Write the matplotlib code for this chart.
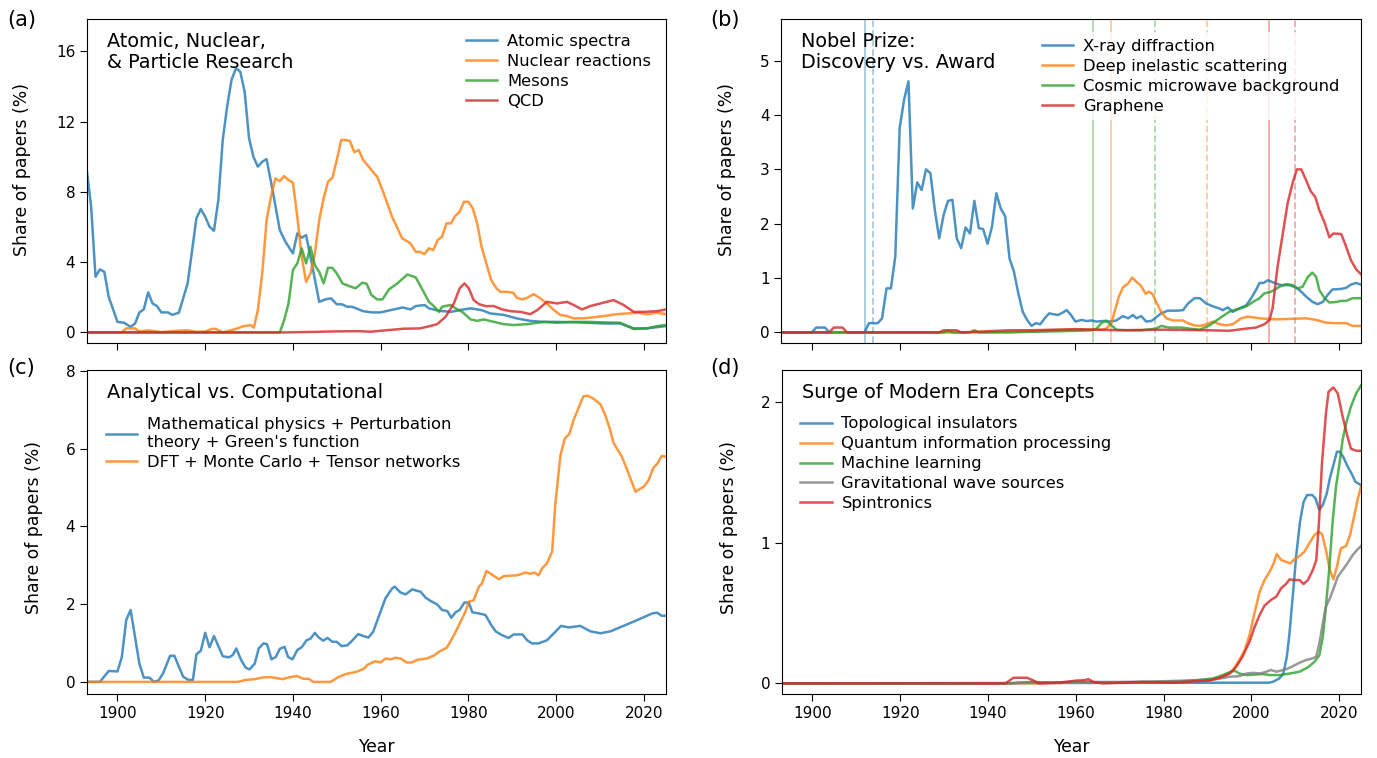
import numpy as np
import matplotlib
matplotlib.use("Agg")
import matplotlib.pyplot as plt

#------------------------------------------------------------------------------#
# Panel (a): Atomic, Nuclear & Particle research

atomYears = [1893, 1894, 1895, 1896, 1897, 1898, 1900, 1901.5, 1903, 1904, 1905, 1906, 1907,
             1908, 1909, 1910, 1911.5, 1912.5, 1914, 1916, 1918, 1919, 1920, 1921, 1922, 1923,
             1924, 1925, 1926, 1927, 1928, 1929, 1930, 1931, 1932, 1933, 1934, 1935.5, 1937,
             1938.3, 1940, 1941, 1942, 1943, 1944.3, 1946, 1947.4, 1948.7, 1950, 1951.2, 1952.4,
             1953.5, 1956, 1958, 1960, 1962.3, 1965, 1966.8, 1968, 1970, 1971, 1973.3, 1976,
             1978, 1980.5, 1983, 1985, 1988, 1991, 1994, 1997, 2000, 2005, 2011, 2014.6, 2017.7,
             2020.7, 2025]
atomVals  = [9.25, 7.16, 3.17, 3.59, 3.45, 2.03, 0.6, 0.55, 0.32, 0.5, 1.14, 1.31, 2.28,
             1.65, 1.5, 1.14, 1.14, 1.0, 1.12, 2.79, 6.5, 7.03, 6.59, 6.02, 5.79, 7.54,
             10.96, 12.86, 14.38, 15.04, 14.85, 13.7, 11.05, 10.0, 9.44, 9.72, 9.87, 7.92, 5.83,
             5.16, 4.5, 5.64, 5.39, 5.54, 3.93, 1.74, 1.88, 1.94, 1.6, 1.6, 1.46,
             1.46, 1.21, 1.14, 1.14, 1.27, 1.42, 1.31, 1.5, 1.56, 1.37, 1.23, 1.17,
             1.27, 1.37, 1.27, 1.08, 1.0, 0.8, 0.66, 0.6, 0.6, 0.57, 0.51, 0.51, 0.23,
             0.23, 0.36]

nuclYears = [1893, 1901, 1902, 1904, 1905, 1907, 1910, 1914, 1916, 1918, 1920, 1921.5, 1922.5,
             1924, 1927, 1928.8, 1930.4, 1931.1, 1932, 1933, 1934, 1935, 1936, 1937, 1938, 1939,
             1940, 1941, 1942, 1943, 1944, 1945, 1946, 1947, 1948, 1949, 1950, 1951, 1952, 1953,
             1954, 1955, 1956, 1957.3, 1958.5, 1959.2, 1960.7, 1962.6, 1964.9, 1966.8, 1968,
             1969, 1970, 1971, 1972, 1973, 1974, 1975, 1976, 1977, 1978, 1979, 1980, 1981,
             1982, 1983, 1984.3, 1985.2, 1986.4, 1987.3, 1988.8, 1990.2, 1991.1, 1992.3, 1993.4,
             1994.9, 1996.4, 1997.9, 1999.5, 2001, 2002.5, 2004, 2006.3, 2008.6, 2010.8, 2013.9,
             2016.2, 2018.5, 2020.7, 2023, 2025]
nuclVals  = [0, 0, 0.23, 0.23, 0.05, 0.12, 0.02, 0.1, 0.12, 0.03, 0.05, 0.2, 0.2,
             0, 0.2, 0.36, 0.41, 0.27, 1.27, 3.36, 6.4, 7.73, 8.77, 8.62, 8.9, 8.68,
             8.53, 6.59, 4.31, 2.88, 3.36, 4.5, 6.4, 7.64, 8.58, 8.81, 9.82, 10.96, 10.96, 10.9,
             10.26, 10.39, 9.82, 9.44, 9.06, 8.87, 7.92, 6.59, 5.36, 5.07, 4.59,
             4.59, 4.46, 4.79, 4.69, 5.26, 5.45, 6.21, 6.21, 6.63, 6.87, 7.44, 7.44, 7.07,
             6.21, 4.88, 3.74, 2.98, 2.51, 2.31, 2.31, 2.26, 1.97, 1.88, 1.97,
             2.18, 1.94, 1.65, 1.27, 0.99, 0.93, 0.8, 0.8, 0.86, 0.93, 1.04,
             1.08, 1.12, 1.04, 1.12, 1.04]

mesonYears = [1893, 1937, 1938, 1939, 1940, 1941, 1942, 1943, 1944, 1945, 1946, 1947, 1948,
              1949, 1950, 1951.3, 1952.8, 1954.3, 1955.8, 1956.8, 1957.9, 1959.2, 1960.4,
              1961.9, 1963.8, 1966.1, 1968, 1969.8, 1971, 1972.1, 1973.3, 1974, 1975.9, 1977.1,
              1978.6, 1980.5, 1982, 1983.5, 1985.8, 1988.1, 1990.3, 1993.4, 1997.2, 2000.2,
              2003.3, 2007.1, 2010.8, 2014.6, 2017.7, 2020.7, 2023, 2025]
mesonVals  = [0, 0, 0.7, 1.65, 3.55, 3.93, 4.79, 3.93, 4.88, 3.83, 3.45, 2.79, 3.68,
              3.68, 3.36, 2.79, 2.64, 2.51, 2.83, 2.77, 2.13, 1.88, 1.88,
              2.45, 2.79, 3.3, 3.13, 2.31, 1.74, 1.5, 1.17, 1.46, 1.56, 1.37,
              1.17, 0.74, 0.66, 0.74, 0.6, 0.47, 0.42, 0.47, 0.6, 0.55,
              0.6, 0.6, 0.57, 0.55, 0.19, 0.23, 0.36, 0.42]

qcdYears = [1893, 1938, 1945, 1950, 1955, 1957.7, 1960.7, 1965.3, 1969, 1970.6, 1972.9, 1974.8,
            1976.7, 1978, 1979.1, 1980.1, 1981.2, 1982.4, 1983.9, 1985.8, 1987.7, 1989.6, 1991.9,
            1994.1, 1995.7, 1997.9, 2000.2, 2002.5, 2004, 2005.9, 2007.8, 2010.1, 2013.1, 2015.4,
            2017.7, 2020, 2023, 2025]
qcdVals  = [0, 0, 0.03, 0.06, 0.07, 0.04, 0.11, 0.21, 0.23, 0.32, 0.47, 0.89,
            1.65, 2.51, 2.79, 2.51, 1.84, 1.61, 1.5, 1.5, 1.31, 1.21, 1.17,
            1.04, 1.27, 1.74, 1.65, 1.74, 1.56, 1.31, 1.5, 1.65, 1.84, 1.56,
            1.17, 1.17, 1.21, 1.31]

#------------------------------------------------------------------------------#
# Panel (b): Nobel prize, discovery vs. award

xrayYears = [1893, 1900, 1901, 1903, 1904, 1912, 1913, 1915, 1916, 1917, 1918, 1919, 1920, 1921,
             1922, 1923, 1924, 1925, 1926, 1927, 1928, 1929, 1930, 1931, 1932, 1933, 1934, 1935,
             1936, 1937, 1938, 1939, 1940, 1941, 1942, 1943, 1944, 1945, 1946, 1947, 1948, 1949,
             1950, 1951, 1952, 1953, 1954, 1956, 1957, 1958, 1959, 1960, 1961.4, 1962.5, 1963.6,
             1964.8, 1966.3, 1967.8, 1969.3, 1970.8, 1972, 1973.1, 1973.9, 1975, 1976.1, 1977.3,
             1978.4, 1979.5, 1981, 1983, 1984.5, 1985.6, 1987.1, 1988.3, 1989.8, 1991.3, 1992.8,
             1993.5, 1994.7, 1995.8, 1997.3, 1998.9, 2000, 2001.1, 2001.9, 2002.8, 2003.8, 2005.3,
             2006.8, 2008.7, 2009.8, 2011, 2012.5, 2014, 2015.1, 2016.3, 2017.4, 2018.5, 2020.5,
             2021.6, 2022.7, 2023.9, 2025]
xrayVals  = [0, 0, 0.09, 0.09, 0, 0, 0.17, 0.17, 0.26, 0.81, 0.81, 1.39, 3.76, 4.28,
             4.62, 2.28, 2.76, 2.62, 3.0, 2.93, 2.25, 1.73, 2.16, 2.42, 2.44, 1.73, 1.55, 1.93,
             1.82, 2.42, 1.92, 1.9, 1.63, 1.94, 2.56, 2.28, 2.14, 1.36, 1.12, 0.72, 0.38, 0.23,
             0.12, 0.17, 0.15, 0.26, 0.35, 0.32, 0.36, 0.41, 0.32, 0.2, 0.23, 0.21, 0.22,
             0.2, 0.21, 0.2, 0.22, 0.3, 0.26, 0.32, 0.26, 0.3, 0.2, 0.21,
             0.28, 0.35, 0.4, 0.4, 0.41, 0.53, 0.63, 0.63, 0.53, 0.48, 0.44,
             0.41, 0.46, 0.38, 0.44, 0.5, 0.63, 0.78, 0.91, 0.91, 0.96, 0.91,
             0.87, 0.87, 0.84, 0.78, 0.66, 0.56, 0.52, 0.56, 0.69, 0.79, 0.8,
             0.82, 0.88, 0.91, 0.88]

disYears = [1893, 1945, 1950, 1955, 1960, 1966, 1967, 1968.2, 1968.9, 1969.9, 1970.8, 1972,
            1972.9, 1973.9, 1974.8, 1976, 1976.7, 1977.5, 1978.4, 1979.5, 1980.7, 1982.2, 1984.5,
            1985.6, 1987.1, 1988.3, 1989.8, 1991.3, 1992.8, 1994.3, 1995.8, 1997.7, 1999.2,
            2001.9, 2005.7, 2009.4, 2012.5, 2014.8, 2017, 2019.3, 2021.6, 2023.1, 2025]
disVals  = [0, 0, 0.02, 0.04, 0.05, 0.05, 0.07, 0.17, 0.38, 0.66, 0.83, 0.9,
            1.01, 0.93, 0.87, 0.71, 0.75, 0.71, 0.56, 0.38, 0.26, 0.22, 0.22,
            0.17, 0.13, 0.12, 0.15, 0.2, 0.15, 0.13, 0.15, 0.26, 0.29,
            0.26, 0.24, 0.25, 0.26, 0.23, 0.18, 0.17, 0.17, 0.12, 0.12]

cmbYears = [1893, 1930, 1931, 1932, 1936, 1937, 1938, 1950, 1960, 1963.6, 1964.8, 1965.9, 1967,
            1968.2, 1969.3, 1971.5, 1975, 1978.4, 1979.5, 1981.3, 1984, 1986, 1988.3, 1990.5,
            1992.8, 1995, 1997.3, 1998.9, 2000.4, 2001.9, 2003, 2004.2, 2005.3, 2006.4, 2008,
            2009.4, 2010.6, 2011.7, 2012.9, 2013.9, 2014.8, 2015.5, 2016.7, 2017.8, 2019.3,
            2020.5, 2021.6, 2023.1, 2025]
cmbVals  = [0, 0, 0.03, 0, 0, 0.04, 0, 0.01, 0.03, 0.04, 0.07, 0.17, 0.22,
            0.13, 0.05, 0.04, 0.04, 0.07, 0.12, 0.09, 0.09, 0.07, 0.05, 0.13,
            0.26, 0.38, 0.44, 0.48, 0.56, 0.63, 0.72, 0.74, 0.78, 0.84, 0.89,
            0.87, 0.81, 0.84, 1.02, 1.1, 1.02, 0.78, 0.63, 0.55, 0.56,
            0.58, 0.58, 0.63, 0.63]

graphYears = [1893, 1904, 1905, 1907, 1908, 1929, 1930, 1933, 1934, 1945, 1950, 1960, 1970,
              1980, 1990, 1995, 1998.9, 2001.1, 2003, 2004.2, 2004.9, 2006, 2007.2, 2008.3,
              2009.5, 2010.4, 2011.4, 2012.5, 2013.6, 2014.6, 2015.5, 2016.7, 2017.8, 2018.7,
              2020.5, 2021.6, 2022.7, 2023.9, 2025]
graphVals  = [0, 0, 0.09, 0.09, 0, 0, 0.04, 0.04, 0, 0.04, 0.04, 0.06, 0.04,
              0.05, 0.04, 0.03, 0.07, 0.09, 0.15, 0.23, 0.46, 1.21, 1.82, 2.38,
              2.77, 3.0, 3.0, 2.8, 2.59, 2.49, 2.25, 2.02, 1.75, 1.82,
              1.81, 1.58, 1.33, 1.16, 1.07]

# Discovery (solid) and award (dashed) years
discoveryYears = [1912, 1968, 1964, 2004]
awardYears     = [1914, 1990, 1978, 2010]

#------------------------------------------------------------------------------#
# Panel (c): Analytical vs. computational

anaYears = [1893, 1896, 1898, 1900, 1901, 1902, 1903, 1904, 1905, 1906, 1907.3, 1908.3, 1909.4,
            1910.4, 1912, 1913, 1914, 1915, 1916.2, 1917.2, 1918, 1919, 1920, 1921, 1922, 1923,
            1924, 1925.4, 1926.3, 1927.1, 1928.2, 1929.2, 1930.1, 1931.3, 1932.2, 1933.3, 1934.1,
            1935.1, 1936.1, 1937, 1938.1, 1938.9, 1939.9, 1941, 1942, 1943.1, 1944, 1945, 1945.9,
            1946.9, 1947.9, 1949, 1950, 1951.1, 1952.4, 1953.5, 1954.9, 1956, 1957.2, 1958.3,
            1959.4, 1961.1, 1962.6, 1963.2, 1964.5, 1965.7, 1967.2, 1968.3, 1969.1, 1970.2,
            1971.4, 1972.9, 1974, 1975.2, 1976.1, 1977.1, 1978, 1979.1, 1980.1, 1980.9, 1982.4,
            1983.9, 1985, 1986.2, 1987.7, 1989.2, 1990.3, 1992.3, 1993.4, 1994.5, 1996, 1997.9,
            1999.5, 2001.1, 2002.9, 2005.5, 2007.8, 2010.1, 2012.4, 2014.3, 2016.2, 2018.5,
            2020.7, 2021.9, 2023, 2024.1, 2025]
anaVals  = [0, 0, 0.28, 0.27, 0.64, 1.59, 1.85, 1.16, 0.47, 0.11, 0.11, 0, 0.04,
            0.22, 0.67, 0.67, 0.39, 0.13, 0.05, 0.05, 0.71, 0.8, 1.26, 0.89, 1.18, 0.92,
            0.66, 0.63, 0.69, 0.86, 0.56, 0.37, 0.32, 0.47, 0.86, 0.99, 0.97,
            0.58, 0.64, 0.85, 0.9, 0.64, 0.58, 0.82, 0.89, 1.07, 1.11, 1.26, 1.14,
            1.06, 1.13, 1.03, 1.03, 0.92, 0.94, 1.06, 1.23, 1.18, 1.14, 1.29,
            1.63, 2.15, 2.4, 2.45, 2.3, 2.25, 2.38, 2.34, 2.32, 2.17,
            2.08, 1.99, 1.85, 1.82, 1.65, 1.79, 1.85, 2.04, 2.04, 1.79, 1.76,
            1.72, 1.5, 1.3, 1.2, 1.13, 1.22, 1.22, 1.07, 0.99, 0.99, 1.07,
            1.25, 1.44, 1.4, 1.44, 1.3, 1.25, 1.3, 1.39, 1.48, 1.59,
            1.7, 1.76, 1.78, 1.7, 1.7]

compYears = [1893, 1927.5, 1929.2, 1931.3, 1933.4, 1935.1, 1937.7, 1939.2, 1941, 1942.3, 1943.6,
             1944.6, 1948.6, 1950.3, 1952, 1954.5, 1956.2, 1957, 1958.7, 1960, 1961.1, 1962.3,
             1963.3, 1964.6, 1965.9, 1967.1, 1968.4, 1970.5, 1972.2, 1973.5, 1975.1, 1976.7,
             1978.2, 1979.3, 1980.1, 1981.2, 1982.4, 1983.1, 1984.1, 1985, 1986.9, 1988.1, 1991.1,
             1993, 1994.1, 1995.1, 1996, 1996.8, 1997.9, 1999.1, 1999.8, 2001, 2002, 2003, 2004,
             2005.1, 2006.2, 2007.2, 2008.4, 2010.1, 2011.2, 2012.2, 2013.1, 2014.3, 2015,
             2016.2, 2018.1, 2020, 2021.1, 2022.1, 2023.1, 2024.1, 2025]
compVals  = [0, 0, 0.05, 0.07, 0.12, 0.12, 0.07, 0.12, 0.15, 0.08, 0.08,
             0, 0, 0.12, 0.2, 0.26, 0.34, 0.44, 0.53, 0.5, 0.6, 0.58,
             0.62, 0.6, 0.5, 0.5, 0.57, 0.6, 0.68, 0.79, 0.88, 1.2,
             1.54, 1.8, 2.06, 2.1, 2.45, 2.53, 2.85, 2.79, 2.64, 2.72, 2.74,
             2.81, 2.78, 2.81, 2.74, 2.92, 3.05, 3.35, 4.55, 5.84, 6.26, 6.37, 6.74,
             7.04, 7.34, 7.36, 7.29, 7.14, 6.86, 6.52, 6.14, 5.92, 5.79,
             5.45, 4.89, 5.02, 5.19, 5.49, 5.62, 5.81, 5.79]

#------------------------------------------------------------------------------#
# Panel (d): Modern era concepts

topoYears = [1893, 2004, 2004.9, 2006.4, 2007.3, 2008.1, 2008.7, 2009.5, 2010.2, 2011.1, 2011.9,
             2012.7, 2013.9, 2014.6, 2015.5, 2016.3, 2017.2, 2017.9, 2018.7, 2019.5, 2020.2,
             2021, 2021.9, 2022.9, 2023.7, 2025]
topoVals  = [0, 0.005, 0.011, 0.035, 0.07, 0.19, 0.356, 0.64, 0.9, 1.15, 1.29,
             1.34, 1.34, 1.317, 1.234, 1.27, 1.352, 1.46, 1.553, 1.648, 1.648,
             1.608, 1.546, 1.49, 1.435, 1.41]

qipYears = [1893, 1950, 1960, 1970, 1980, 1985, 1989.8, 1992.8, 1994.3, 1995.8, 1997.3, 1998.5,
            1999.6, 2000.7, 2001.9, 2003, 2004.2, 2005.1, 2005.8, 2006.8, 2007.8, 2008.9, 2009.8,
            2011, 2012.1, 2013.2, 2014.4, 2015.4, 2016.1, 2017, 2017.9, 2018.7, 2019.5, 2020.4,
            2021.6, 2022.5, 2023.5, 2024.2, 2025]
qipVals  = [0, 0, 0.005, 0.005, 0.01, 0.015, 0.023, 0.04, 0.059, 0.094, 0.166, 0.237,
            0.344, 0.498, 0.652, 0.735, 0.795, 0.854, 0.92, 0.878, 0.866, 0.854, 0.883,
            0.906, 0.937, 0.996, 1.056, 1.079, 1.063, 0.949, 0.807, 0.74, 0.83, 0.961,
            0.977, 1.056, 1.198, 1.305, 1.4]

mlYears = [1893, 1945, 1950, 1955, 1960, 1970, 1980, 1985, 1991.3, 1993.5, 1995.4, 1996.2, 1997.3,
           1998.9, 2002.6, 2004.2, 2006.4, 2008.7, 2011, 2012.9, 2014.4, 2015.5, 2016.3, 2017,
           2017.8, 2018.5, 2019.3, 2020.1, 2020.8, 2021.6, 2022.7, 2023.9, 2025]
mlVals  = [0, 0, 0.01, 0.005, 0.01, 0.005, 0.01, 0.015, 0.035, 0.059, 0.083, 0.09, 0.07,
           0.059, 0.066, 0.059, 0.059, 0.07, 0.083, 0.114, 0.154, 0.2, 0.332, 0.546,
           0.83, 1.14, 1.4, 1.566, 1.732, 1.85, 1.97, 2.064, 2.12]

gwYears = [1893, 1945, 1950, 1955, 1960, 1970, 1980, 1985, 1991, 1995.1, 1997.3, 1998.9, 2000.4,
           2002, 2003.4, 2004.5, 2005.7, 2007.9, 2009.5, 2011, 2012.5, 2014, 2014.8, 2015.5,
           2016.3, 2017, 2017.9, 2018.9, 2019.7, 2020.8, 2022, 2023.1, 2024.2, 2025]
gwVals  = [0, 0, 0.01, 0.005, 0.01, 0.01, 0.015, 0.02, 0.025, 0.047, 0.052, 0.07, 0.075,
           0.07, 0.083, 0.095, 0.083, 0.1, 0.123, 0.147, 0.166, 0.178, 0.19, 0.284,
           0.427, 0.546, 0.605, 0.688, 0.759, 0.806, 0.859, 0.913, 0.953, 0.977]

spinYears = [1893, 1944, 1945.8, 1948.9, 1950.4, 1951.5, 1956, 1960.2, 1961.7, 1962.9, 1964,
             1966.3, 1975, 1983, 1987, 1990.5, 1992.8, 1995.1, 1996.6, 1998, 1999.6, 2000.7,
             2001.9, 2003, 2004.5, 2005.7, 2006.8, 2007.9, 2008.7, 2009.8, 2011, 2011.9, 2012.9,
             2014, 2014.8, 2015.4, 2016.1, 2017, 2017.6, 2018.7, 2019.7, 2020.8, 2021.8, 2022.7,
             2023.9, 2025]
spinVals  = [0, 0, 0.04, 0.04, 0.02, 0.0, 0.005, 0.02, 0.022, 0.03, 0.01,
             0.0, 0.01, 0.005, 0.015, 0.02, 0.04, 0.07, 0.12, 0.19, 0.297, 0.397,
             0.487, 0.553, 0.594, 0.617, 0.677, 0.707, 0.74, 0.735, 0.735, 0.707, 0.735,
             0.806, 0.877, 1.14, 1.566, 1.92, 2.075, 2.106, 2.063, 1.9, 1.77, 1.67,
             1.655, 1.655]

#------------------------------------------------------------------------------#
# Visualization

plt.rcParams["font.family"] = "DejaVu Sans"
plt.rcParams["xtick.labelsize"] = 11
plt.rcParams["ytick.labelsize"] = 11
plt.rcParams["xtick.major.size"] = 4.8
plt.rcParams["ytick.major.size"] = 4.8
plt.rcParams["axes.labelsize"] = 12.4
plt.rcParams["legend.fontsize"] = 11.8

lineKw = dict(lw=1.8, alpha=0.8)
legKw  = dict(frameon=True, edgecolor="none", framealpha=0.8, fancybox=False,
              borderaxespad=0.0, labelspacing=0.3, handlelength=1.9, handletextpad=0.6)
titleSize = 13.9

fig = plt.figure(figsize=(13.77, 7.58), dpi=100)
axA = fig.add_axes([0.0630, 0.5471, 0.4205, 0.4274])
axB = fig.add_axes([0.5672, 0.5471, 0.4212, 0.4274])
axC = fig.add_axes([0.0630, 0.0840, 0.4205, 0.4279])
axD = fig.add_axes([0.5677, 0.0840, 0.4207, 0.4279])

for ax in [axA, axB, axC, axD]:
    ax.set_xlim(1893, 2025)
    ax.set_xticks([1900, 1920, 1940, 1960, 1980, 2000, 2020])
    ax.set_ylabel("Share of papers (%)")

for ax in [axA, axB]:
    ax.tick_params(labelbottom=False)

for ax in [axC, axD]:
    ax.set_xlabel("Year")
    ax.xaxis.set_label_coords(0.5, -0.135)

axA.yaxis.set_label_coords(-0.097, 0.535)
axB.yaxis.set_label_coords(-0.077, 0.535)
axC.yaxis.set_label_coords(-0.075, 0.515)
axD.yaxis.set_label_coords(-0.075, 0.515)

# (a)
axA.plot(atomYears, atomVals, color="tab:blue", label="Atomic spectra", **lineKw)
axA.plot(nuclYears, nuclVals, color="tab:orange", label="Nuclear reactions", **lineKw)
axA.plot(mesonYears, mesonVals, color="tab:green", label="Mesons", **lineKw)
axA.plot(qcdYears, qcdVals, color="tab:red", label="QCD", **lineKw)
axA.set_ylim(-0.62, 17.83)
axA.set_yticks([0, 4, 8, 12, 16])
axA.text(0.035, 0.96, "Atomic, Nuclear,\n& Particle Research", transform=axA.transAxes,
         fontsize=titleSize, va="top", ha="left", linespacing=1.1)
axA.legend(loc="upper right", bbox_to_anchor=(0.986, 0.975), **legKw)

# (b)
bColors = ["tab:blue", "tab:orange", "tab:green", "tab:red"]
axB.plot(xrayYears, xrayVals, color=bColors[0], label="X-ray diffraction", **lineKw)
axB.plot(disYears, disVals, color=bColors[1], label="Deep inelastic scattering", **lineKw)
axB.plot(cmbYears, cmbVals, color=bColors[2], label="Cosmic microwave background", **lineKw)
axB.plot(graphYears, graphVals, color=bColors[3], label="Graphene", **lineKw)
for iLine in range(len(discoveryYears)):
    axB.axvline(discoveryYears[iLine], color=bColors[iLine], lw=1.3, alpha=0.4, zorder=1)
    axB.axvline(awardYears[iLine], color=bColors[iLine], lw=1.3, alpha=0.4, ls="--", zorder=1)
axB.set_ylim(-0.2, 5.76)
axB.set_yticks([0, 1, 2, 3, 4, 5])
axB.text(0.035, 0.96, "Nobel Prize:\nDiscovery vs. Award", transform=axB.transAxes,
         fontsize=titleSize, va="top", ha="left", linespacing=1.1)
axB.legend(loc="upper right", bbox_to_anchor=(0.974, 0.96), **legKw)

# (c)
axC.plot(anaYears, anaVals, color="tab:blue",
         label="Mathematical physics + Perturbation\ntheory + Green's function", **lineKw)
axC.plot(compYears, compVals, color="tab:orange",
         label="DFT + Monte Carlo + Tensor networks", **lineKw)
axC.set_ylim(-0.32, 8.02)
axC.set_yticks([0, 2, 4, 6, 8])
axC.text(0.035, 0.96, "Analytical vs. Computational", transform=axC.transAxes,
         fontsize=titleSize, va="top", ha="left")
axC.legend(loc="upper left", bbox_to_anchor=(0.022, 0.874), **legKw)

# (d)
axD.plot(topoYears, topoVals, color="tab:blue", label="Topological insulators", **lineKw)
axD.plot(qipYears, qipVals, color="tab:orange", label="Quantum information processing", **lineKw)
axD.plot(mlYears, mlVals, color="tab:green", label="Machine learning", **lineKw)
axD.plot(gwYears, gwVals, color="tab:gray", label="Gravitational wave sources", **lineKw)
axD.plot(spinYears, spinVals, color="tab:red", label="Spintronics", **lineKw)
axD.set_ylim(-0.078, 2.23)
axD.set_yticks([0, 1, 2])
axD.text(0.035, 0.96, "Surge of Modern Era Concepts", transform=axD.transAxes,
         fontsize=titleSize, va="top", ha="left")
axD.legend(loc="upper left", bbox_to_anchor=(0.021, 0.877), **legKw)

# Panel labels
fig.text(0.005, 0.974, "(a)", fontsize=15, va="center")
fig.text(0.516, 0.974, "(b)", fontsize=15, va="center")
fig.text(0.005, 0.515, "(c)", fontsize=15, va="center")
fig.text(0.516, 0.515, "(d)", fontsize=15, va="center")

fig.savefig("out.png", dpi=100)
